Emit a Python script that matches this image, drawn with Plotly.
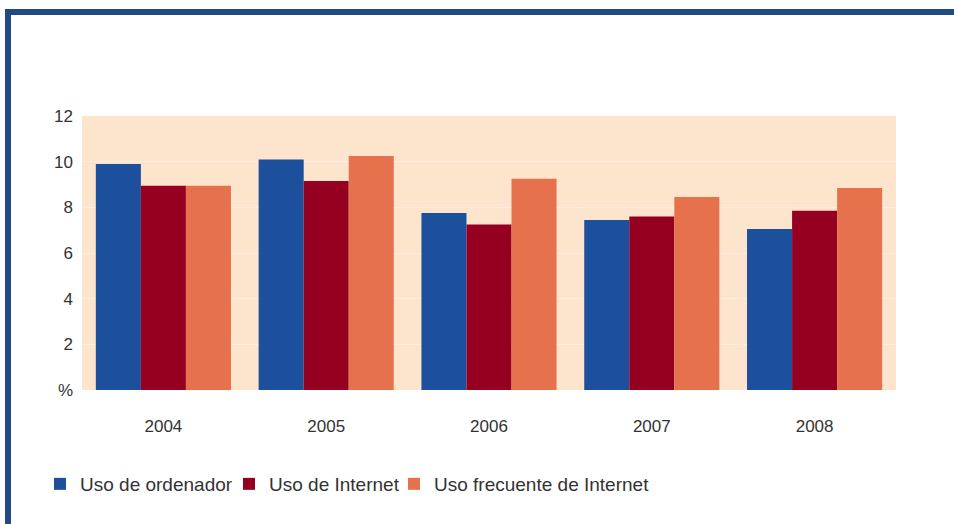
import plotly.graph_objects as go

years = ["2004", "2005", "2006", "2007", "2008"]
uso_ordenador = [9.9, 10.1, 7.75, 7.45, 7.05]
uso_internet = [8.95, 9.15, 7.25, 7.6, 7.85]
uso_frecuente = [8.95, 10.25, 9.25, 8.45, 8.85]
series_names = ["Uso de ordenador", "Uso de Internet", "Uso frecuente de Internet"]
colors = ["#1c4f9c", "#960020", "#e6714d"]
y_tickvals = [0, 2, 4, 6, 8, 10, 12]
y_ticktext = ["%", "2", "4", "6", "8", "10", "12"]

W, H = 954, 524
L, R, T, B = 82, 58, 116, 134
pw, ph = W - L - R, H - T - B

def px_x(x):
    return (x - L) / pw

def px_y(y):
    return (H - B - y) / ph

FONT = "Liberation Sans, Arial, sans-serif"
legend_ids = ["legend", "legend2", "legend3"]
legend_px = [40, 229, 394]

fig = go.Figure()
for name, vals, c, lg in zip(series_names, [uso_ordenador, uso_internet, uso_frecuente], colors, legend_ids):
    fig.add_trace(go.Bar(x=years, y=vals, name=name, legend=lg,
                         marker=dict(color=c, line=dict(width=0))))

shapes = [
    dict(type="rect", xref="paper", yref="paper", x0=px_x(5), x1=px_x(954),
         y0=px_y(15), y1=px_y(9), fillcolor="#1f4a82", line=dict(width=0)),
    dict(type="rect", xref="paper", yref="paper", x0=px_x(5), x1=px_x(11),
         y0=px_y(524), y1=px_y(9), fillcolor="#1f4a82", line=dict(width=0)),
]

legend_common = dict(orientation="h", xanchor="left", y=px_y(484), yanchor="middle",
                     font=dict(family=FONT, size=19, color="#333333"), itemwidth=30,
                     bgcolor="rgba(0,0,0,0)")

fig.update_layout(
    width=W, height=H,
    margin=dict(l=L, r=R, t=T, b=B),
    paper_bgcolor="white",
    plot_bgcolor="#fce5cc",
    barmode="group",
    bargap=0.17,
    bargroupgap=0,
    font=dict(family=FONT, size=17, color="#333333"),
    showlegend=True,
    legend=dict(x=px_x(legend_px[0]), **legend_common),
    legend2=dict(x=px_x(legend_px[1]), **legend_common),
    legend3=dict(x=px_x(legend_px[2]), **legend_common),
    shapes=shapes,
)
fig.update_xaxes(showgrid=False, showline=False, ticks="", ticklabelstandoff=24,
                 tickfont=dict(size=17, color="#333333"))
fig.update_yaxes(range=[0, 12], tickvals=y_tickvals, ticktext=y_ticktext,
                 showgrid=True, gridcolor="#fdede0", gridwidth=1, zeroline=False,
                 showline=False, ticks="", ticklabelstandoff=8,
                 tickfont=dict(size=17, color="#333333"))

fig.write_html("out.html", config={"displayModeBar": False},
               post_script="document.body.style.margin='0';")
